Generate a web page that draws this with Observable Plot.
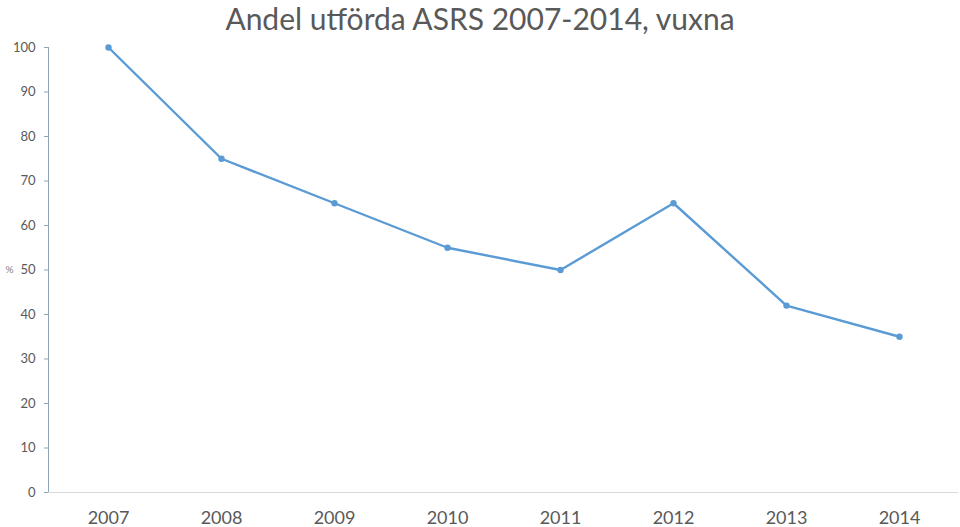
<!DOCTYPE html>
<html>
<head>
<meta charset="utf-8">
<script src="https://cdn.jsdelivr.net/npm/d3@7"></script>
<script src="https://cdn.jsdelivr.net/npm/@observablehq/plot@0.6"></script>
<style>
  html, body { margin: 0; padding: 0; background: #fff; overflow: hidden; }
  #title { height: 28px; line-height: 36px; overflow: visible; position: relative; z-index: 1; text-align: center; font-family: Lato, "Open Sans", sans-serif; font-size: 30px; color: #595959; white-space: nowrap; }
  #chart svg { display: block; }
</style>
</head>
<body>
<div id="title">Andel utförda ASRS 2007-2014, vuxna</div>
<div id="chart"></div>
<script>
const years = ["2007", "2008", "2009", "2010", "2011", "2012", "2013", "2014"];
const values = [100, 75, 65, 55, 50, 65, 42, 35];
const yTicks = [0, 10, 20, 30, 40, 50, 60, 70, 80, 90, 100];
const yLabel = "%";
const yLabelAt = 50;

const data = years.map((y, i) => ({year: y, value: values[i]}));
const blue = "#5B9BD5";
const textGray = "#595959";

const chart = Plot.plot({
  width: 960,
  height: 499,
  marginLeft: 48,
  marginRight: 2,
  marginTop: 19,
  marginBottom: 35,
  style: {fontFamily: "Lato, 'Open Sans', sans-serif", background: "transparent"},
  x: {type: "point", domain: years, padding: 0.5, label: null},
  y: {domain: [0, 100], label: null},
  marks: [
    Plot.frame({anchor: "left", stroke: "#8FA5B8"}),
    Plot.ruleY([0], {stroke: "#D9D9D9", strokeWidth: 1.2}),
    Plot.axisY(yTicks, {tickSize: 4, tickPadding: 9, fontSize: 13, color: textGray, stroke: "#8FA5B8", label: null}),
    Plot.axisX({tickSize: 0, tickPadding: 19, fontSize: 18, color: textGray, label: null}),
    Plot.text([{v: yLabelAt}], {y: "v", text: () => yLabel, frameAnchor: "left", dx: -43, textAnchor: "start", fontSize: 10, fill: "#7f7f7f"}),
    Plot.line(data, {x: "year", y: "value", stroke: blue, strokeWidth: 2.4}),
    Plot.dot(data, {x: "year", y: "value", fill: blue, r: 3.2})
  ]
});
document.getElementById("chart").appendChild(chart);
</script>
</body>
</html>
